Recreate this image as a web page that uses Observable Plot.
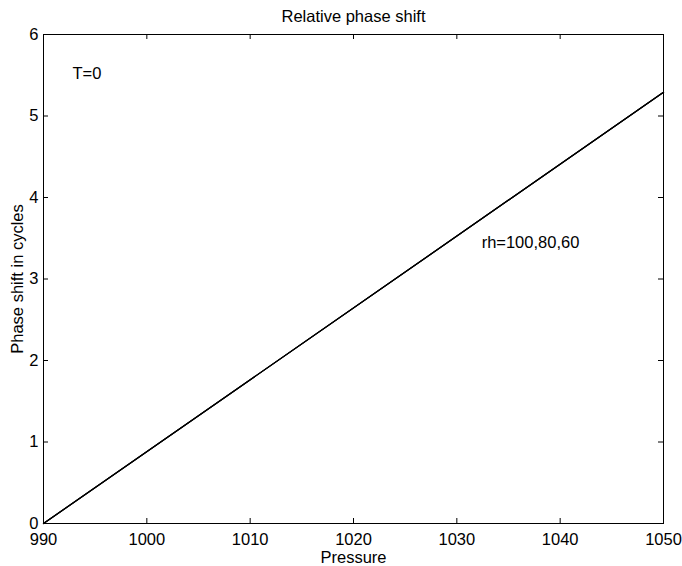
<!DOCTYPE html>
<html>
<head>
<meta charset="utf-8">
<script src="https://cdn.jsdelivr.net/npm/d3@7"></script>
<script src="https://cdn.jsdelivr.net/npm/@observablehq/plot@0.6"></script>
<style>
html, body { margin: 0; padding: 0; background: #fff; }
svg { font-family: "Liberation Sans", Arial, sans-serif; }
</style>
</head>
<body>
<div id="chart"></div>
<script>
// Data
const pressure = [990, 1050];
const phaseShift = [0, 5.29];
const seriesNames = ["rh=100", "rh=80", "rh=60"];
const xTicks = [990, 1000, 1010, 1020, 1030, 1040, 1050];
const yTicks = [0, 1, 2, 3, 4, 5, 6];
const titleText = "Relative phase shift";
const xLabel = "Pressure";
const yLabel = "Phase shift in cycles";
const annotations = [
  {x: 992.8, y: 5.52, text: "T=0"},
  {x: 1032.4, y: 3.45, text: "rh=100,80,60"}
];

const data = seriesNames.flatMap(s => pressure.map((p, i) => ({series: s, p, v: phaseShift[i]})));

const W = 682, H = 566;
const mL = 43, mR = 19, mT = 34, mB = 43;
const fw = W - mL - mR, fh = H - mT - mB;
const tl = 5;
const fs = 16.5;

const chart = Plot.plot({
  width: W, height: H,
  marginLeft: mL, marginRight: mR, marginTop: mT, marginBottom: mB,
  style: {fontSize: fs + "px", fontFamily: "'Liberation Sans', Arial, sans-serif", background: "#fff", color: "#000", overflow: "visible"},
  x: {domain: [990, 1050]},
  y: {domain: [0, 6]},
  marks: [
    // inward ticks on all four sides
    Plot.gridX(xTicks, {stroke: "#000", strokeOpacity: 1, insetTop: fh - tl}),
    Plot.gridX(xTicks, {stroke: "#000", strokeOpacity: 1, insetBottom: fh - tl}),
    Plot.gridY(yTicks, {stroke: "#000", strokeOpacity: 1, insetRight: fw - tl}),
    Plot.gridY(yTicks, {stroke: "#000", strokeOpacity: 1, insetLeft: fw - tl}),
    Plot.frame({stroke: "#000", strokeWidth: 1}),
    Plot.axisX(xTicks, {tickSize: 0, tickPadding: 10, label: null, fill: "#000", fontSize: fs, tickFormat: d3.format("d")}),
    Plot.axisY(yTicks, {tickSize: 0, tickPadding: 5, label: null, fill: "#000", fontSize: fs, tickFormat: d3.format("d")}),
    Plot.line(data, {x: "p", y: "v", z: "series", stroke: "#000", strokeWidth: 1.2}),
    Plot.text(annotations, {x: "x", y: "y", text: "text", textAnchor: "start", fill: "#000", fontSize: fs}),
    Plot.text([titleText], {frameAnchor: "top", dy: -24, fill: "#000", fontSize: fs}),
    Plot.text([xLabel], {frameAnchor: "bottom", dy: 39, fill: "#000", fontSize: fs}),
    Plot.text([yLabel], {frameAnchor: "left", textAnchor: "middle", rotate: -90, dx: -26, fill: "#000", fontSize: fs})
  ]
});
document.getElementById("chart").appendChild(chart);
</script>
</body>
</html>
